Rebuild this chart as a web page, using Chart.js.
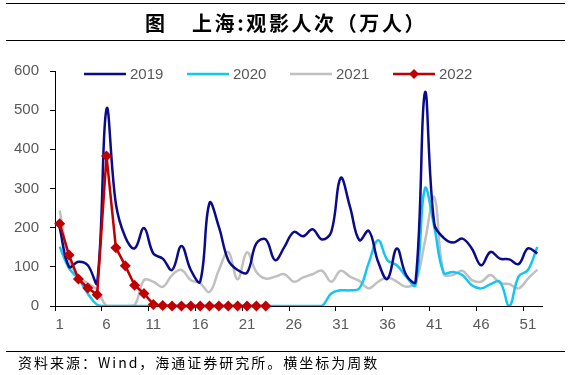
<!DOCTYPE html>
<html>
<head>
<meta charset="utf-8">
<script src="https://cdn.jsdelivr.net/npm/chart.js@4.4.0/dist/chart.umd.min.js"></script>
<style>
  body { margin: 0; background: #fff; }
  #wrap { position: relative; width: 570px; height: 375px; overflow: hidden; background: #fff; }
  .rule { position: absolute; left: 6px; width: 559px; height: 0; border-top: 1.5px solid #000; }
  #title { position: absolute; left: 145px; top: 12px; font: bold 20px "Noto Sans CJK SC"; line-height: 22px; white-space: nowrap; }
  #title span + span { margin-left: 27px; letter-spacing: 2.6px; }
  #source { position: absolute; left: 18px; top: 353px; font: 14px "Noto Sans CJK SC"; line-height: 18px; letter-spacing: 2px; white-space: nowrap; }
  #sales { position: absolute; left: 0; top: 0; }
</style>
</head>
<body>
<div id="wrap">
  <canvas id="sales" width="570" height="375"></canvas>
  <div class="rule" style="top:3px"></div>
  <div id="title"><span>图</span><span>上海:观影人次（万人）</span></div>
  <div class="rule" style="top:40px"></div>
  <div class="rule" style="top:351px"></div>
  <div id="source">资料来源：Wind，海通证券研究所。横坐标为周数</div>
</div>
<script>
// weeks 1..52
const weeks = Array.from({length: 52}, (_, i) => String(i + 1));

const y2019 = [200, 100, 113, 104, 59, 503, 261, 176, 147, 199, 134, 121, 92, 153, 92, 62, 263, 202, 117, 92,
               85, 160, 170, 117, 151, 189, 178, 196, 170, 189, 327, 253, 168, 192, 113, 69, 147, 79, 62, 545,
               210, 174, 162, 172, 147, 104, 138, 121, 119, 107, 147, 134];
const y2020 = [151, 96, 70, 32, 3, 0, 0, 0, 0, 0, 0, 0, 0, 0, 0, 0, 0, 0, 0, 0,
               0, 0, 0, 0, 0, 0, 0, 0, 0, 32, 40, 40, 45, 110, 168, 117, 104, 75, 53, 300,
               202, 85, 87, 79, 53, 45, 56, 62, 0, 75, 92, 151];
const y2021 = [244, 117, 75, 58, 41, 0, 0, 0, 2, 66, 62, 49, 79, 92, 66, 58, 36, 92, 138, 68,
               137, 87, 70, 75, 81, 62, 73, 81, 90, 62, 90, 75, 64, 45, 62, 73, 62, 49, 62, 165,
               278, 82, 79, 90, 66, 62, 79, 59, 56, 45, 70, 93];
const y2022 = [210, 130, 69, 46, 29, 383, 149, 103, 53, 32, 4, 1, 0, 0, 0, 0, 0, 0, 0, 0, 0, 0, 0];

const yTicks = [0, 100, 200, 300, 400, 500, 600];

const navy = '#0A0A8C', cyan = '#12C6F4', grey = '#C0C0C0', red = '#C00000';
const axisText = '#595959';

// legend drawn by hand: 2022 needs line + diamond
const legendPlugin = {
  id: 'legendPlugin',
  afterDraw(chart) {
    const ctx = chart.ctx;
    ctx.save();
    ctx.font = '15px "Liberation Sans", Arial';
    ctx.textBaseline = 'middle';
    ctx.textAlign = 'left';
    const y = 74;
    chart.data.datasets.forEach((ds, i) => {
      const x0 = 84 + i * 103;
      ctx.strokeStyle = ds.borderColor;
      ctx.lineWidth = ds.borderWidth;
      ctx.beginPath();
      ctx.moveTo(x0, y);
      ctx.lineTo(x0 + 42, y);
      ctx.stroke();
      if (ds.pointRadius > 0) {
        ctx.fillStyle = ds.borderColor;
        ctx.beginPath();
        ctx.moveTo(x0 + 21, y - 5);
        ctx.lineTo(x0 + 26, y);
        ctx.lineTo(x0 + 21, y + 5);
        ctx.lineTo(x0 + 16, y);
        ctx.closePath();
        ctx.fill();
      }
      ctx.fillStyle = axisText;
      ctx.fillText(ds.label, x0 + 46, y + 1);
    });
    ctx.restore();
  }
};

const config = {
  type: 'line',
  data: {
    labels: weeks,
    datasets: [
      { label: '2019', data: y2019, borderColor: navy, borderWidth: 2.5, pointRadius: 0, tension: 0.4, order: 1 },
      { label: '2020', data: y2020, borderColor: cyan, borderWidth: 2.5, pointRadius: 0, tension: 0.4, order: 2 },
      { label: '2021', data: y2021, borderColor: grey, borderWidth: 2.5, pointRadius: 0, tension: 0.4, order: 3 },
      { label: '2022', data: y2022, borderColor: red, backgroundColor: red, borderWidth: 2.5,
        pointStyle: 'rectRot', pointRadius: 5.5, pointBackgroundColor: red, pointBorderColor: red, pointBorderWidth: 0,
        tension: 0, order: 0, clip: false }
    ]
  },
  options: {
    responsive: false,
    animation: false,
    layout: { padding: { left: 0, right: 28, top: 71, bottom: 39 } },
    scales: {
      x: {
        type: 'category',
        offset: true,
        grid: {
          offset: true,
          drawOnChartArea: false,
          drawTicks: true,
          tickLength: 5,
          color: (c) => (c.index % 5 === 0 ? '#000' : 'rgba(0,0,0,0)')
        },
        border: { display: true, color: '#000', width: 1 },
        ticks: {
          autoSkip: false,
          maxRotation: 0,
          padding: 5,
          color: axisText,
          font: { family: '"Liberation Sans", Arial', size: 15 },
          callback: function(value, index) {
            return index % 5 === 0 ? weeks[index] : '';
          }
        },
        afterFit(scale) { scale.height = 30; }
      },
      y: {
        min: 0,
        max: 600,
        afterBuildTicks(scale) { scale.ticks = yTicks.map(v => ({ value: v })); },
        grid: { drawOnChartArea: false, drawTicks: true, tickLength: 5, color: '#000' },
        border: { display: true, color: '#000', width: 1 },
        ticks: {
          padding: 11,
          color: axisText,
          font: { family: '"Liberation Sans", Arial', size: 15 }
        },
        afterFit(scale) { scale.width = 55; }
      }
    },
    plugins: {
      legend: { display: false },
      title: { display: false },
      tooltip: { enabled: false }
    }
  },
  plugins: [legendPlugin]
};

new Chart('sales', config);
</script>
</body>
</html>
